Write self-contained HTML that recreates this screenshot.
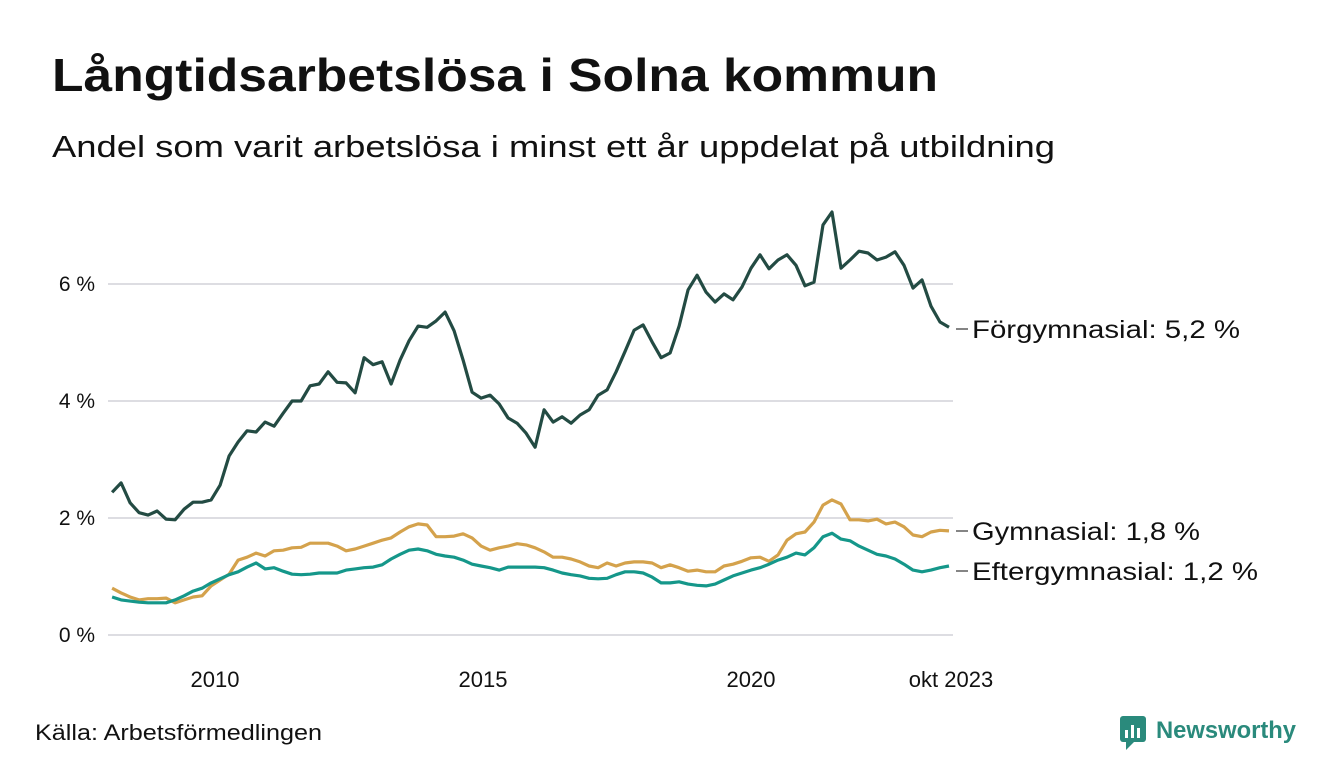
<!DOCTYPE html>
<html><head><meta charset="utf-8"><style>
body{margin:0;background:#fff;font-family:"Liberation Sans",sans-serif;}
svg{display:block}
</style></head><body>
<svg width="1340" height="780" viewBox="0 0 1340 780" id="chart">
<text x="52" y="91" font-size="46" font-weight="bold" fill="#111" textLength="886" lengthAdjust="spacingAndGlyphs">Långtidsarbetslösa i Solna kommun</text>
<text x="52" y="157" font-size="31" fill="#111" textLength="1003" lengthAdjust="spacingAndGlyphs">Andel som varit arbetslösa i minst ett år uppdelat på utbildning</text>
<g id="grid"></g><g id="series"></g><g id="labels"></g>
<text x="35" y="740" font-size="22" fill="#111" textLength="287" lengthAdjust="spacingAndGlyphs">Källa: Arbetsförmedlingen</text>
<g>
<rect x="1120" y="716" width="26" height="26" rx="3" fill="#2a8a7c"/>
<rect x="1125" y="730" width="3" height="8" fill="#fff"/><rect x="1131" y="725" width="3" height="13" fill="#fff"/><rect x="1137" y="728" width="3" height="10" fill="#fff"/>
<path d="M1126 742 L1126 750 L1134 742 Z" fill="#2a8a7c"/>
<text x="1156" y="738" font-size="24" font-weight="bold" fill="#2a8a7c" textLength="140" lengthAdjust="spacingAndGlyphs">Newsworthy</text>
</g>
</svg>
<script>
const yTicks=[0,2,4,6];
const xTickYears=[2010,2015,2020];
const endLabel="okt 2023";
const startYear=2008.08;
const stepYears=0.1679;
const forgymnasial=[2.44,2.60,2.26,2.09,2.05,2.12,1.98,1.97,2.15,2.27,2.27,2.31,2.56,3.06,3.30,3.49,3.47,3.64,3.57,3.79,4.00,4.00,4.26,4.29,4.50,4.32,4.31,4.14,4.74,4.62,4.67,4.29,4.70,5.03,5.28,5.26,5.37,5.52,5.20,4.70,4.15,4.05,4.10,3.95,3.71,3.62,3.45,3.21,3.85,3.64,3.73,3.62,3.76,3.85,4.10,4.19,4.50,4.85,5.21,5.30,5.01,4.74,4.82,5.28,5.90,6.15,5.86,5.69,5.83,5.73,5.95,6.27,6.50,6.26,6.41,6.50,6.32,5.97,6.03,7.01,7.23,6.27,6.41,6.56,6.53,6.41,6.46,6.55,6.32,5.93,6.07,5.62,5.35,5.26];
const gymnasial=[0.80,0.72,0.65,0.60,0.62,0.62,0.63,0.55,0.60,0.65,0.67,0.84,0.94,1.04,1.28,1.33,1.40,1.35,1.44,1.45,1.49,1.50,1.57,1.57,1.57,1.52,1.44,1.47,1.52,1.57,1.62,1.66,1.76,1.85,1.90,1.88,1.68,1.68,1.69,1.73,1.66,1.52,1.45,1.49,1.52,1.56,1.54,1.49,1.42,1.33,1.33,1.30,1.25,1.18,1.15,1.23,1.18,1.23,1.25,1.25,1.23,1.15,1.20,1.15,1.09,1.11,1.08,1.08,1.18,1.21,1.26,1.32,1.33,1.26,1.37,1.62,1.73,1.76,1.93,2.22,2.31,2.24,1.97,1.97,1.95,1.98,1.90,1.93,1.85,1.71,1.68,1.76,1.79,1.78];
const eftergymnasial=[0.65,0.60,0.58,0.56,0.55,0.55,0.55,0.60,0.67,0.75,0.80,0.89,0.96,1.03,1.08,1.16,1.23,1.13,1.15,1.09,1.04,1.03,1.04,1.06,1.06,1.06,1.11,1.13,1.15,1.16,1.20,1.30,1.38,1.45,1.47,1.44,1.38,1.35,1.33,1.28,1.21,1.18,1.15,1.11,1.16,1.16,1.16,1.16,1.15,1.11,1.06,1.03,1.01,0.97,0.96,0.97,1.03,1.08,1.08,1.06,0.99,0.89,0.89,0.91,0.87,0.85,0.84,0.87,0.94,1.01,1.06,1.11,1.15,1.21,1.28,1.33,1.40,1.37,1.49,1.68,1.74,1.64,1.61,1.52,1.45,1.38,1.35,1.30,1.21,1.11,1.08,1.11,1.15,1.18];
const seriesNames=["Förgymnasial","Gymnasial","Eftergymnasial"];
const labelValues=["5,2","1,8","1,2"];

const NS="http://www.w3.org/2000/svg";
const xs=t=>215+(t-2010)*53.6;
const ys=v=>635-v*58.5;
function mk(tag,attrs,parent){const e=document.createElementNS(NS,tag);for(const k in attrs)e.setAttribute(k,attrs[k]);parent.appendChild(e);return e;}
const grid=document.getElementById('grid');
yTicks.forEach(v=>{
  const l=mk('line',{x1:108,x2:953,y1:ys(v),y2:ys(v),stroke:'#dddde2','stroke-width':2},grid);
  
  
  const t=mk('text',{x:95,y:ys(v)+7,'text-anchor':'end','font-size':21,fill:'#111'},grid);
  t.textContent=v+' %';
  
  
});
xTickYears.forEach(y=>{
  const t=mk('text',{x:xs(y),y:687,'text-anchor':'middle','font-size':22,fill:'#111'},grid);
  t.textContent=y;
  
  
});
const et=mk('text',{x:951,y:687,'text-anchor':'middle','font-size':22,fill:'#111'},grid);
et.textContent=endLabel;



const sg=document.getElementById('series');
const lg=document.getElementById('labels');
const data=[forgymnasial,gymnasial,eftergymnasial];
const colors=['#234b43','#d4a24c','#15978a'];
const labelY=[329,531,571];
const labelW=[268,228,286];
data.forEach((arr,k)=>{
  const d=arr.map((v,i)=>(i?'L':'M')+xs(startYear+i*stepYears).toFixed(1)+' '+ys(v).toFixed(1)).join(' ');
  const p=mk('path',{d:d,fill:'none',stroke:colors[k],'stroke-width':3.2,'stroke-linejoin':'round'},sg);
  
  
  const c=mk('line',{x1:956,x2:968,y1:labelY[k],y2:labelY[k],stroke:'#333','stroke-width':1.2},lg);
  
  
  const t=mk('text',{x:972,y:labelY[k]+9,'font-size':25,fill:'#111',textLength:labelW[k],lengthAdjust:'spacingAndGlyphs'},lg);
  t.textContent=seriesNames[k]+': '+labelValues[k]+' %';
  
  
});
</script>
</body></html>
